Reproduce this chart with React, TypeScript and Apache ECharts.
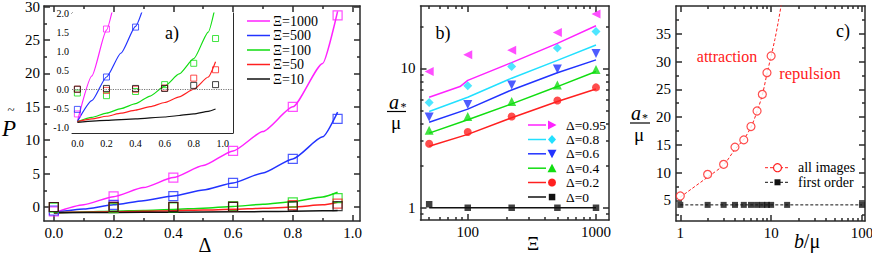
import React, { useEffect, useRef } from 'react';
import * as echarts from 'echarts';

const FONT = 'Liberation Serif';
const AXIS = '#2a2a2a';

// ---------------- Panel a ----------------
const XI_A = [1000, 500, 100, 50, 10];
const COLORS_A = ['#ff22ff', '#2233ff', '#11dd11', '#ff2020', '#111111'];

const theoryA1000 = [[0, -0.85], [0.1, 0.35], [0.2, 1.55], [0.3, 2.9], [0.4, 4.4], [0.5, 6.2], [0.6, 8.4], [0.7, 11.3], [0.8, 15], [0.9, 21.5], [0.95, 29.3]];
const theoryA500 = [[0, -0.85], [0.1, -0.3], [0.2, 0.32], [0.3, 0.95], [0.4, 1.65], [0.5, 2.55], [0.6, 3.6], [0.7, 5.1], [0.8, 7.2], [0.9, 10.5], [0.95, 14.2]];
const theoryA100 = [[0, -0.85], [0.1, -0.74], [0.2, -0.63], [0.3, -0.51], [0.4, -0.38], [0.5, -0.18], [0.6, 0.08], [0.7, 0.4], [0.8, 0.8], [0.9, 1.5], [0.95, 2.2]];
const theoryA50 = [[0, -0.85], [0.1, -0.78], [0.2, -0.71], [0.3, -0.63], [0.4, -0.55], [0.5, -0.46], [0.6, -0.35], [0.7, -0.2], [0.8, 0.0], [0.9, 0.32], [0.95, 0.72]];
const theoryA10 = [[0, -0.87], [0.2, -0.82], [0.4, -0.78], [0.6, -0.73], [0.7, -0.69], [0.8, -0.65], [0.9, -0.58], [0.95, -0.52]];
const THEORY_A = [theoryA1000, theoryA500, theoryA100, theoryA50, theoryA10];

const simA1000 = [[0, -0.65], [0.2, 1.58], [0.4, 4.4], [0.6, 8.4], [0.8, 15], [0.95, 28.7]];
const simA500 = [[0, -0.53], [0.2, 0.32], [0.4, 1.63], [0.6, 3.6], [0.8, 7.2], [0.95, 13.2]];
const simA100 = [[0, -0.1], [0.2, -0.17], [0.4, -0.06], [0.6, 0.12], [0.8, 0.68], [0.95, 1.33]];
const simA50 = [[0, 0.0], [0.2, -0.03], [0.4, 0.0], [0.6, 0.03], [0.8, 0.29], [0.95, 0.51]];
const simA10 = [[0, 0.0], [0.2, 0.02], [0.4, 0.02], [0.6, 0.02], [0.8, 0.1], [0.95, 0.12]];
const SIM_A = [simA1000, simA500, simA100, simA50, simA10];

const A_X_MAJOR = [0, 0.2, 0.4, 0.6, 0.8, 1.0];
const A_X_MINOR = [0.1, 0.3, 0.5, 0.7, 0.9];
const A_Y_MAJOR = [0, 5, 10, 15, 20, 25, 30];
const A_Y_MINOR = [2.5, 7.5, 12.5, 17.5, 22.5, 27.5];
const IN_X_MAJOR = [0, 0.2, 0.4, 0.6, 0.8, 1.0];
const IN_X_MINOR = [0.1, 0.3, 0.5, 0.7, 0.9];
const IN_Y_MAJOR = [-1, -0.5, 0, 0.5, 1, 1.5, 2];
const IN_Y_MINOR = [-0.75, -0.25, 0.25, 0.75, 1.25, 1.75];

// ---------------- Panel b ----------------
const XI_B = [50, 100, 220, 500, 1000];
const DELTA_B = [0.95, 0.8, 0.6, 0.4, 0.2, 0];
const COLORS_B = ['#ff22ff', '#22e0ff', '#2233ff', '#11dd11', '#ff2020', '#111111'];
const simB095 = [9.5, 12.5, 13.5, 18.1, 24.5];
const simB08 = [5.7, 7.5, 10.3, 14.0, 18.4];
const simB06 = [4.47, 5.5, 7.6, 9.9, 12.8];
const simB04 = [3.59, 4.52, 5.78, 7.6, 9.8];
const simB02 = [2.88, 3.49, 4.52, 5.88, 7.3];
const simB0 = [1.06, 1.0, 1.0, 1.0, 1.0];
const SIM_B = [simB095, simB08, simB06, simB04, simB02, simB0];

const theoryB095 = [[50, 6.2], [87, 7.4], [100, 8.2], [220, 11.0], [500, 15.1], [1000, 20.2]];
const theoryB08 = [[50, 4.9], [100, 6.2], [220, 8.5], [500, 11.4], [1000, 14.7]];
const theoryB06 = [[50, 4.1], [100, 5.1], [220, 7.0], [500, 9.3], [1000, 11.5]];
const theoryB04 = [[50, 3.43], [100, 4.28], [220, 5.56], [500, 7.4], [1000, 9.5]];
const theoryB02 = [[50, 2.76], [100, 3.36], [220, 4.42], [500, 5.78], [1000, 7.1]];
const theoryB0 = [[50, 1.0], [1000, 1.0]];
const THEORY_B = [theoryB095, theoryB08, theoryB06, theoryB04, theoryB02, theoryB0];

const B_X_MAJOR = [100, 1000];
const B_X_MINOR = [50, 60, 70, 80, 90, 200, 300, 400, 500, 600, 700, 800, 900];
const B_Y_MAJOR = [1, 10];
const B_Y_MINOR = [0.9, 2, 3, 4, 5, 6, 7, 8, 9, 20];

// ---------------- Panel c ----------------
const B_MU = [1, 2, 3, 4, 5, 6, 7, 8, 9, 10];
const ALL_IMAGES = [5.8, 9.7, 11.5, 14.6, 15.9, 18.3, 21.1, 24.1, 28.0, 31.0];
const ALL_IMAGES_CURVE = [[1, 5.6], [2, 9.2], [3, 11.4], [4, 14.2], [5, 16.0], [6, 18.2], [7, 21.0], [8, 24.0], [9, 27.8], [10, 31.0], [11, 34.0], [12, 37.2], [13, 40.5]];
const FIRST_ORDER_B = [1, 2, 3, 4, 5, 6, 7, 8, 9, 10, 15, 100];
const FIRST_ORDER = [4.2, 4.2, 4.2, 4.2, 4.2, 4.2, 4.2, 4.2, 4.2, 4.2, 4.2, 4.2];

const C_X_MAJOR = [1, 10, 100];
const C_X_MINOR = [2, 3, 4, 5, 6, 7, 8, 9, 20, 30, 40, 50, 60, 70, 80, 90];
const C_Y_MAJOR = [5, 10, 15, 20, 25, 30, 35];
const C_Y_MINOR = [2.5, 7.5, 12.5, 17.5, 22.5, 27.5, 32.5, 37.5];

type Spec = {
  grid: number; dim: 'x' | 'y'; type: 'value' | 'log'; min: number; max: number;
  major: number[]; minor: number[]; fmt: (v: number) => string; fontSize: number;
  margin: number; majorLen: number; minorLen: number; lineWidth: number;
};

function buildAxes(s: Spec, xs: any[], ys: any[]): number {
  const list = s.dim === 'x' ? xs : ys;
  const base: any = {
    type: s.type, gridIndex: s.grid, min: s.min, max: s.max,
    splitLine: { show: false }, minorTick: { show: false }, minorSplitLine: { show: false },
    axisPointer: { show: false }, silent: true,
  };
  if (s.type === 'log') base.logBase = 10;
  const ls = { color: AXIS, width: s.lineWidth };
  const mk = (pos: string, showLine: boolean, ticks: number[], len: number, labels: boolean) => ({
    ...base,
    position: pos,
    axisLine: { show: showLine, onZero: false, lineStyle: ls },
    axisTick: { show: true, inside: true, length: len, customValues: ticks, lineStyle: ls },
    axisLabel: labels
      ? { show: true, customValues: s.major, formatter: (v: number) => s.fmt(v), fontFamily: FONT, fontSize: s.fontSize, color: '#000', margin: s.margin, hideOverlap: false }
      : { show: false },
  });
  const p1 = s.dim === 'x' ? 'bottom' : 'left';
  const p2 = s.dim === 'x' ? 'top' : 'right';
  const idx = list.length;
  list.push(mk(p1, true, s.major, s.majorLen, true));
  list.push(mk(p1, false, s.minor, s.minorLen, false));
  list.push(mk(p2, true, s.major, s.majorLen, false));
  list.push(mk(p2, false, s.minor, s.minorLen, false));
  return idx;
}

function txt(x: number, y: number, text: string, size: number, opts: any = {}) {
  const style: any = {
    text, fontSize: size, fontFamily: FONT, fill: opts.fill || '#000',
    align: opts.align || 'center', verticalAlign: 'middle',
  };
  if (opts.italic) style.fontStyle = 'italic';
  if (opts.rich) style.rich = opts.rich;
  return { type: 'text', x, y, silent: true, z: 100, style };
}

function hline(x1: number, x2: number, y: number, color: string, width: number, dash?: number[]) {
  const style: any = { stroke: color, lineWidth: width };
  if (dash) style.lineDash = dash;
  return { type: 'line', silent: true, z: 100, shape: { x1, y1: y, x2, y2: y }, style };
}

export default function App() {
  const ref = useRef<HTMLDivElement>(null);
  useEffect(() => {
    document.body.style.margin = '0';
    if (!ref.current) return;
    const chart = echarts.init(ref.current, undefined, { renderer: 'svg' });
    const xs: any[] = [];
    const ys: any[] = [];
    const f1 = (v: number) => v.toFixed(1);
    const f0 = (v: number) => String(v);

    const aX = buildAxes({ grid: 0, dim: 'x', type: 'value', min: -0.033, max: 1.025, major: A_X_MAJOR, minor: A_X_MINOR, fmt: f1, fontSize: 15, margin: 4, majorLen: 6, minorLen: 3, lineWidth: 1.5 }, xs, ys);
    const aY = buildAxes({ grid: 0, dim: 'y', type: 'value', min: -2.1, max: 30.1, major: A_Y_MAJOR, minor: A_Y_MINOR, fmt: f0, fontSize: 15, margin: 4, majorLen: 6, minorLen: 3, lineWidth: 1.5 }, xs, ys);
    const iX = buildAxes({ grid: 1, dim: 'x', type: 'value', min: -0.037, max: 1.07, major: IN_X_MAJOR, minor: IN_X_MINOR, fmt: f1, fontSize: 10, margin: 5, majorLen: 4, minorLen: 2, lineWidth: 1 }, xs, ys);
    const iY = buildAxes({ grid: 1, dim: 'y', type: 'value', min: -1.15, max: 2.0, major: IN_Y_MAJOR, minor: IN_Y_MINOR, fmt: f1, fontSize: 10, margin: 3, majorLen: 4, minorLen: 2, lineWidth: 1 }, xs, ys);
    const bX = buildAxes({ grid: 2, dim: 'x', type: 'log', min: 42.8, max: 1263, major: B_X_MAJOR, minor: B_X_MINOR, fmt: f0, fontSize: 15, margin: 4, majorLen: 6, minorLen: 3, lineWidth: 1.5 }, xs, ys);
    const bY = buildAxes({ grid: 2, dim: 'y', type: 'log', min: 0.817, max: 28, major: B_Y_MAJOR, minor: B_Y_MINOR, fmt: f0, fontSize: 15, margin: 5, majorLen: 6, minorLen: 3, lineWidth: 1.5 }, xs, ys);
    const cX = buildAxes({ grid: 3, dim: 'x', type: 'log', min: 0.897, max: 108, major: C_X_MAJOR, minor: C_X_MINOR, fmt: f0, fontSize: 15, margin: 4, majorLen: 6, minorLen: 3, lineWidth: 1.5 }, xs, ys);
    const cY = buildAxes({ grid: 3, dim: 'y', type: 'value', min: 1.3, max: 40, major: C_Y_MAJOR, minor: C_Y_MINOR, fmt: f0, fontSize: 15, margin: 5, majorLen: 6, minorLen: 3, lineWidth: 1.5 }, xs, ys);

    const series: any[] = [];
    THEORY_A.forEach((d, i) => {
      series.push({ type: 'line', xAxisIndex: aX, yAxisIndex: aY, data: d, symbol: 'none', smooth: 0.2, smoothMonotone: 'x', lineStyle: { color: COLORS_A[i], width: 1.5 }, z: 3 });
      const s: any = { type: 'line', xAxisIndex: iX, yAxisIndex: iY, data: d, symbol: 'none', smooth: 0.2, smoothMonotone: 'x', clip: true, lineStyle: { color: COLORS_A[i], width: 1.2 }, z: 3 };
      if (i === THEORY_A.length - 1) {
        s.markLine = { silent: true, symbol: 'none', label: { show: false }, lineStyle: { type: 'dotted', color: '#777', width: 1.2 }, data: [{ yAxis: 0 }] };
      }
      series.push(s);
    });
    SIM_A.forEach((d, i) => {
      series.push({ type: 'scatter', xAxisIndex: aX, yAxisIndex: aY, data: d, symbol: 'rect', symbolSize: 9, itemStyle: { color: 'rgba(0,0,0,0)', borderColor: COLORS_A[i], borderWidth: 1.2 }, z: 4 });
      series.push({ type: 'scatter', xAxisIndex: iX, yAxisIndex: iY, data: d, symbol: 'rect', symbolSize: 6, clip: true, itemStyle: { color: 'rgba(0,0,0,0)', borderColor: COLORS_A[i], borderWidth: 1 }, z: 4 });
    });

    const SYM_B = [
      { symbol: 'triangle', rotate: 90, size: 9 },
      { symbol: 'diamond', rotate: 0, size: 9 },
      { symbol: 'triangle', rotate: 180, size: 9 },
      { symbol: 'triangle', rotate: 0, size: 9 },
      { symbol: 'circle', rotate: 0, size: 8 },
      { symbol: 'rect', rotate: 0, size: 6.5 },
    ];
    THEORY_B.forEach((d, i) => {
      series.push({ type: 'line', xAxisIndex: bX, yAxisIndex: bY, data: d, symbol: 'none', lineStyle: { color: COLORS_B[i], width: 1.5 }, z: 3 });
    });
    SIM_B.forEach((vals, i) => {
      series.push({
        type: 'scatter', xAxisIndex: bX, yAxisIndex: bY,
        data: vals.map((v, j) => [XI_B[j], v]),
        symbol: SYM_B[i].symbol, symbolRotate: SYM_B[i].rotate, symbolSize: SYM_B[i].size,
        itemStyle: { color: COLORS_B[i] }, z: 4,
      });
    });

    series.push({ type: 'line', xAxisIndex: cX, yAxisIndex: cY, data: ALL_IMAGES_CURVE, symbol: 'none', smooth: 0.3, clip: true, lineStyle: { color: '#ff2020', width: 1, type: [3, 2] }, z: 3 });
    series.push({ type: 'scatter', xAxisIndex: cX, yAxisIndex: cY, data: B_MU.map((b, j) => [b, ALL_IMAGES[j]]), symbol: 'circle', symbolSize: 8, itemStyle: { color: '#fff', borderColor: '#ff2020', borderWidth: 1.2 }, z: 4 });
    series.push({ type: 'line', xAxisIndex: cX, yAxisIndex: cY, data: FIRST_ORDER_B.map((b, j) => [b, FIRST_ORDER[j]]), symbol: 'none', lineStyle: { color: '#111', width: 1, type: [3, 2] }, z: 3 });
    series.push({ type: 'scatter', xAxisIndex: cX, yAxisIndex: cY, data: FIRST_ORDER_B.map((b, j) => [b, FIRST_ORDER[j]]), symbol: 'rect', symbolSize: 6, itemStyle: { color: '#111' }, z: 4 });

    // ----- graphic: legends and titles -----
    const g: any[] = [];
    const legAY = [21, 35.5, 50, 64.5, 79];
    XI_A.forEach((xi, i) => {
      g.push(hline(247, 270, legAY[i], COLORS_A[i], 1.5));
      g.push(txt(273, legAY[i], 'Ξ=' + xi, 14, { align: 'left' }));
    });
    const legBY = [125, 139.5, 153.8, 168.2, 182.5, 197];
    DELTA_B.forEach((d, i) => {
      const y = legBY[i];
      const cx = 552;
      const c = COLORS_B[i];
      g.push(hline(528, 546, y, c, 1.5));
      if (i === 0) g.push({ type: 'polygon', z: 100, shape: { points: [[cx - 4, y - 4.5], [cx + 4.5, y], [cx - 4, y + 4.5]] }, style: { fill: c } });
      if (i === 1) g.push({ type: 'polygon', z: 100, shape: { points: [[cx, y - 4.5], [cx + 4, y], [cx, y + 4.5], [cx - 4, y]] }, style: { fill: c } });
      if (i === 2) g.push({ type: 'polygon', z: 100, shape: { points: [[cx - 4.5, y - 4], [cx + 4.5, y - 4], [cx, y + 4.5]] }, style: { fill: c } });
      if (i === 3) g.push({ type: 'polygon', z: 100, shape: { points: [[cx - 4.5, y + 4], [cx + 4.5, y + 4], [cx, y - 4.5]] }, style: { fill: c } });
      if (i === 4) g.push({ type: 'circle', z: 100, shape: { cx, cy: y, r: 4 }, style: { fill: c } });
      if (i === 5) g.push({ type: 'rect', z: 100, shape: { x: cx - 3.2, y: y - 3.2, width: 6.5, height: 6.5 }, style: { fill: c } });
      g.push(txt(566, y, 'Δ=' + d, 13.5, { align: 'left' }));
    });
    g.push(hline(765, 790, 167.7, '#ff2020', 1, [3, 2]));
    g.push({ type: 'circle', z: 101, shape: { cx: 777.5, cy: 167.7, r: 4 }, style: { fill: '#fff', stroke: '#ff2020', lineWidth: 1.2 } });
    g.push(txt(798, 167.7, 'all images', 14, { align: 'left' }));
    g.push(hline(765, 790, 182.3, '#111', 1, [3, 2]));
    g.push({ type: 'rect', z: 101, shape: { x: 774.5, y: 179.3, width: 6, height: 6 }, style: { fill: '#111' } });
    g.push(txt(798, 182.3, 'first order', 14, { align: 'left' }));

    g.push(txt(172, 33, 'a)', 18));
    g.push(txt(443, 33, 'b)', 18));
    g.push(txt(843, 31, 'c)', 18));
    g.push(txt(727, 56, 'attraction', 16, { fill: '#ff2020' }));
    g.push(txt(810, 73, 'repulsion', 16.5, { fill: '#ff2020' }));

    // axis titles
    g.push(txt(9, 128, 'P', 23, { italic: true }));
    g.push(txt(11, 109, '~', 13));
    g.push(txt(205, 245, 'Δ', 20));
    g.push(txt(533, 243, 'Ξ', 19));
    g.push(txt(807, 241, '{i|b}/μ', 20, { rich: { i: { fontStyle: 'italic', fontSize: 20, fontFamily: FONT } } }));
    // fraction a*/μ (panel b)
    g.push(txt(394, 102, 'a', 20, { italic: true }));
    g.push(txt(403.5, 107, '*', 12));
    g.push(hline(387, 406, 111.5, '#000', 1.2));
    g.push(txt(396, 122, 'μ', 19));
    // fraction a*/μ (panel c)
    g.push(txt(636, 113, 'a', 20, { italic: true }));
    g.push(txt(645, 118, '*', 12));
    g.push(hline(630, 650, 123, '#000', 1.2));
    g.push(txt(639, 134, 'μ', 19));

    const option: any = {
      animation: false,
      backgroundColor: '#fff',
      textStyle: { fontFamily: FONT },
      grid: [
        { left: 44, top: 6, width: 316, height: 215, containLabel: false, outerBoundsMode: 'none' },
        { left: 72, top: 13, width: 161, height: 120, containLabel: false, outerBoundsMode: 'none', show: true, backgroundColor: '#fff', borderWidth: 0, z: 1 },
        { left: 420.5, top: 6, width: 188.5, height: 214, containLabel: false, outerBoundsMode: 'none' },
        { left: 676, top: 6, width: 189, height: 215, containLabel: false, outerBoundsMode: 'none' },
      ],
      xAxis: xs,
      yAxis: ys,
      series,
      graphic: { elements: g },
    };
    chart.setOption(option);
    return () => chart.dispose();
  }, []);
  return <div ref={ref} style={{ width: 872, height: 256 }} />;
}
